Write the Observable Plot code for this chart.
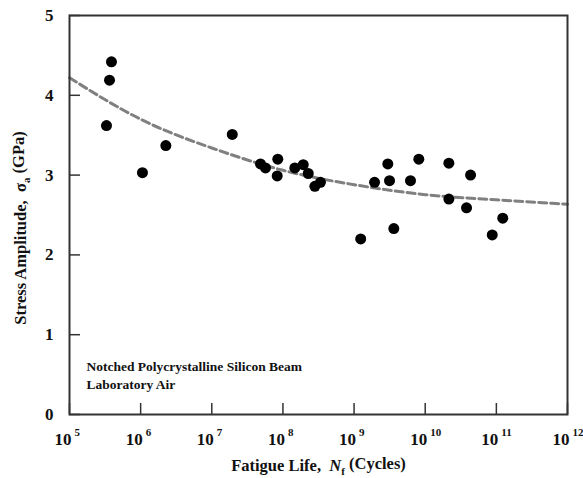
<!DOCTYPE html>
<html><head><meta charset="utf-8">
<script src="https://cdn.jsdelivr.net/npm/d3@7"></script>
<script src="https://cdn.jsdelivr.net/npm/@observablehq/plot@0.6"></script>
<style>body{margin:0;background:#fff}</style>
</head><body><div id="chart"></div>
<script>
const cycles = [3.89e5, 3.65e5, 3.31e5, 1.06e6, 2.26e6, 1.94e7, 4.84e7, 5.69e7, 8.47e7, 8.31e7, 1.47e8, 1.93e8, 2.27e8, 2.81e8, 3.37e8, 1.24e9, 1.94e9, 2.98e9, 3.15e9, 3.62e9, 6.21e9, 8.13e9, 2.15e10, 2.15e10, 3.81e10, 4.34e10, 8.75e10, 1.23e11];
const stress = [4.42, 4.19, 3.62, 3.03, 3.37, 3.51, 3.14, 3.09, 3.20, 2.99, 3.09, 3.13, 3.02, 2.86, 2.91, 2.20, 2.91, 3.14, 2.93, 2.33, 2.93, 3.20, 3.15, 2.70, 2.59, 3.00, 2.25, 2.46];
const fitCycles = [1e5, 1e6, 1e7, 1e8, 1e9, 1e10, 1e11, 1e12];
const fitStress = [4.22, 3.70, 3.34, 3.06, 2.88, 2.755, 2.69, 2.635];
const yTicks = [0, 1, 2, 3, 4, 5];
const xExponents = [5, 6, 7, 8, 9, 10, 11, 12];
const noteLines = ["Notched Polycrystalline Silicon Beam", "Laboratory Air"];
const xLabel = "Fatigue Life,";
const yLabel = "Stress Amplitude,";

const points = cycles.map((c, i) => ({c, s: stress[i]}));
const fit = fitCycles.map((c, i) => ({c, s: fitStress[i]}));
const bold = {fontWeight: "bold", fill: "#111"};

const chart = Plot.plot({
  width: 583, height: 478,
  marginLeft: 69, marginRight: 16, marginTop: 15, marginBottom: 64,
  style: {fontFamily: "'Liberation Serif', 'Times New Roman', serif", background: "#fff", color: "#111"},
  x: {type: "log", domain: [1e5, 1e12], axis: null},
  y: {domain: [0, 5], axis: null},
  marks: [
    Plot.line(fit, {x: "c", y: "s", curve: "natural", stroke: "#808080", strokeWidth: 3, strokeDasharray: "8,4"}),
    Plot.dot(points, {x: "c", y: "s", r: 5.5, fill: "#000", stroke: "none"}),
    Plot.tickY(yTicks, {y: d => d, insetRight: 498 - 11, stroke: "#333", strokeWidth: 1.5}),
    Plot.tickX(xExponents, {x: e => 10 ** e, insetTop: 399 - 11, stroke: "#333", strokeWidth: 1.5}),
    Plot.frame({stroke: "#333", strokeWidth: 2}),
    Plot.text(yTicks, {y: d => d, text: d => String(d), frameAnchor: "left", dx: -16, textAnchor: "end", lineAnchor: "middle", fontSize: 17, ...bold}),
    Plot.text(xExponents, {x: e => 10 ** e, text: () => "10", frameAnchor: "bottom", dy: 25, dx: 2, textAnchor: "end", lineAnchor: "middle", fontSize: 17, ...bold}),
    Plot.text(xExponents, {x: e => 10 ** e, text: e => String(e), frameAnchor: "bottom", dy: 18, dx: 5, textAnchor: "start", lineAnchor: "middle", fontSize: 11, ...bold}),
    Plot.text([noteLines.join("\n")], {text: d => d, frameAnchor: "bottom-left", dx: 17, dy: -40, textAnchor: "start", lineAnchor: "middle", lineHeight: 1.3, fontSize: 13.5, ...bold}),
    Plot.text([xLabel], {text: d => d, frameAnchor: "bottom", dy: 51, textAnchor: "middle", lineAnchor: "middle", fontSize: 16.5, className: "xlab", ...bold}),
    Plot.text([yLabel], {text: d => d, frameAnchor: "left", dx: -49, dy: 13, rotate: -90, textAnchor: "middle", lineAnchor: "middle", fontSize: 16.5, className: "ylab", ...bold})
  ]
});
document.getElementById("chart").appendChild(chart);

d3.select(chart).select(".xlab text").each(function() {
  const t = d3.select(this);
  const base = t.text();
  t.text(null);
  t.append("tspan").text(base + "\u00a0\u00a0");
  t.append("tspan").attr("font-style", "italic").text("N");
  t.append("tspan").attr("font-size", 11).attr("dy", "0.35em").text("f");
  t.append("tspan").attr("dy", "-0.35em").text("\u00a0(Cycles)");
});
d3.select(chart).select(".ylab text").each(function() {
  const t = d3.select(this);
  const base = t.text();
  t.text(null);
  t.append("tspan").text(base + "\u00a0\u00a0");
  t.append("tspan").text("\u03c3");
  t.append("tspan").attr("font-size", 11).attr("dy", "0.35em").text("a");
  t.append("tspan").attr("dy", "-0.35em").text("\u00a0(GPa)");
});
</script>
</body></html>
